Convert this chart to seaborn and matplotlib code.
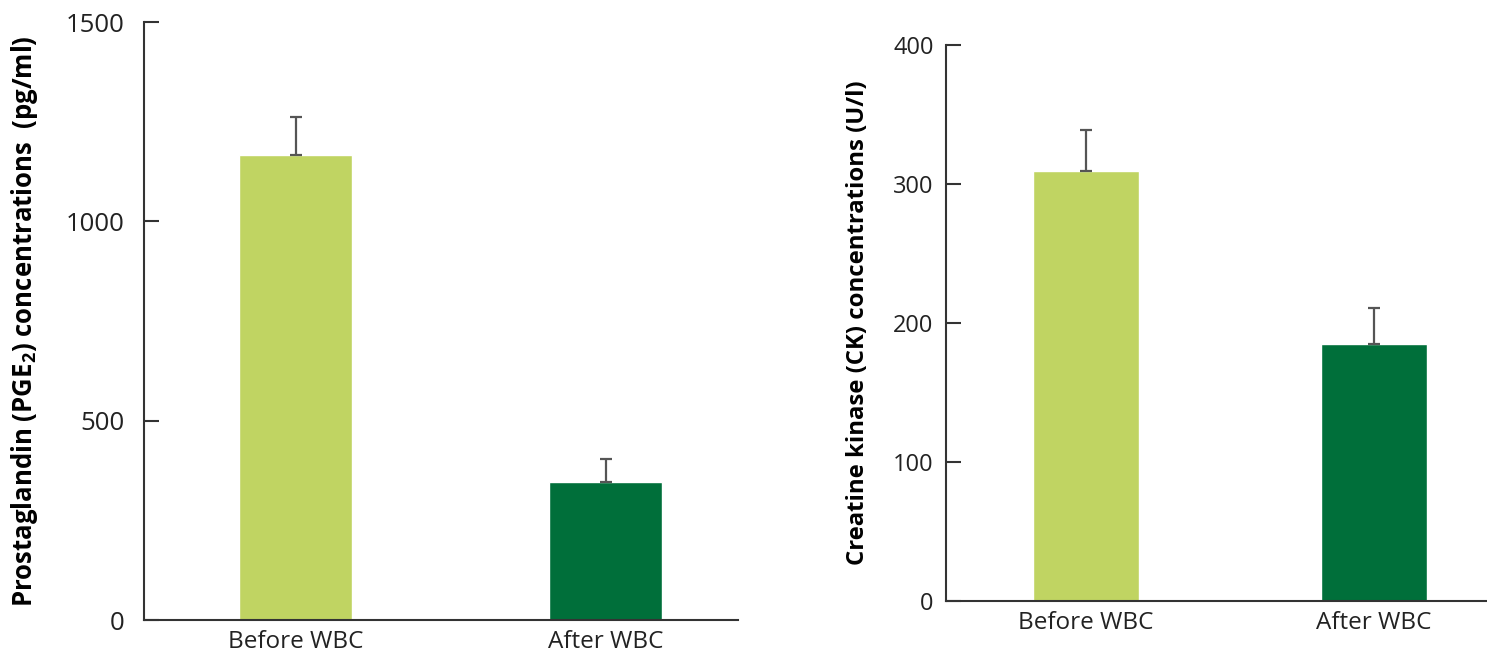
import matplotlib
matplotlib.use("Agg")
import matplotlib.pyplot as plt
import seaborn as sns
import pandas as pd

sns.set_theme(style="white")
plt.rcParams["font.family"] = ["Open Sans", "DejaVu Sans"]

# Data
groups = ["Before WBC", "After WBC"]
pge2_mean = [1167, 347]
pge2_err = [95, 58]
ck_mean = [309, 185]
ck_err = [30, 26]

bar_colors = ["#c0d462", "#006f3a"]
axis_color = "#333333"
text_color = "#222222"

fig = plt.figure(figsize=(14.87, 6.53), dpi=100)
ax1 = fig.add_axes([0.0968, 0.0505, 0.3995, 0.9158])
ax2 = fig.add_axes([0.6362, 0.0796, 0.3638, 0.8515])


def draw_panel(ax, means, errs, ymax, step, ylabel, xlim, width,
               ytick_size, ytick_pad, ylabel_size):
    df = pd.DataFrame({"group": groups, "value": means})
    sns.barplot(data=df, x="group", y="value", hue="group",
                palette=bar_colors, width=width, ax=ax,
                legend=False, saturation=1, errorbar=None)
    ax.errorbar(range(len(groups)), means, yerr=[[0] * len(errs), errs],
                fmt="none", ecolor="#555555", elinewidth=1.6,
                capsize=4.5, capthick=1.6, zorder=3)
    ax.set_ylim(0, ymax)
    ax.set_xlim(*xlim)
    ax.set_yticks(range(0, ymax + 1, step))
    for side in ("top", "right"):
        ax.spines[side].set_visible(False)
    for side in ("left", "bottom"):
        ax.spines[side].set_color(axis_color)
        ax.spines[side].set_linewidth(1.5)
    ax.tick_params(axis="y", direction="in", length=11, width=1.5,
                   color=axis_color, labelsize=ytick_size,
                   labelcolor=text_color, pad=ytick_pad, left=True)
    ax.tick_params(axis="x", length=0, labelsize=17.5,
                   labelcolor=text_color, pad=7)
    ax.set_xlabel("")
    ax.set_ylabel(ylabel, fontsize=ylabel_size, fontweight="bold",
                  color="black")


draw_panel(ax1, pge2_mean, pge2_err, 1500, 500,
           "Prostaglandin (PGE$_\\mathregular{2}$) concentrations  (pg/ml)",
           (-0.489, 1.427), 0.365, 18.5, 14, 18.5)
draw_panel(ax2, ck_mean, ck_err, 400, 100,
           "Creatine kinase (CK) concentrations (U/l)",
           (-0.486, 1.392), 0.368, 17, 9, 17.2)

ax1.yaxis.set_label_coords(-0.175, 0.5)
ax2.yaxis.set_label_coords(-0.14, 0.5)

fig.savefig("out.png", dpi=100)
